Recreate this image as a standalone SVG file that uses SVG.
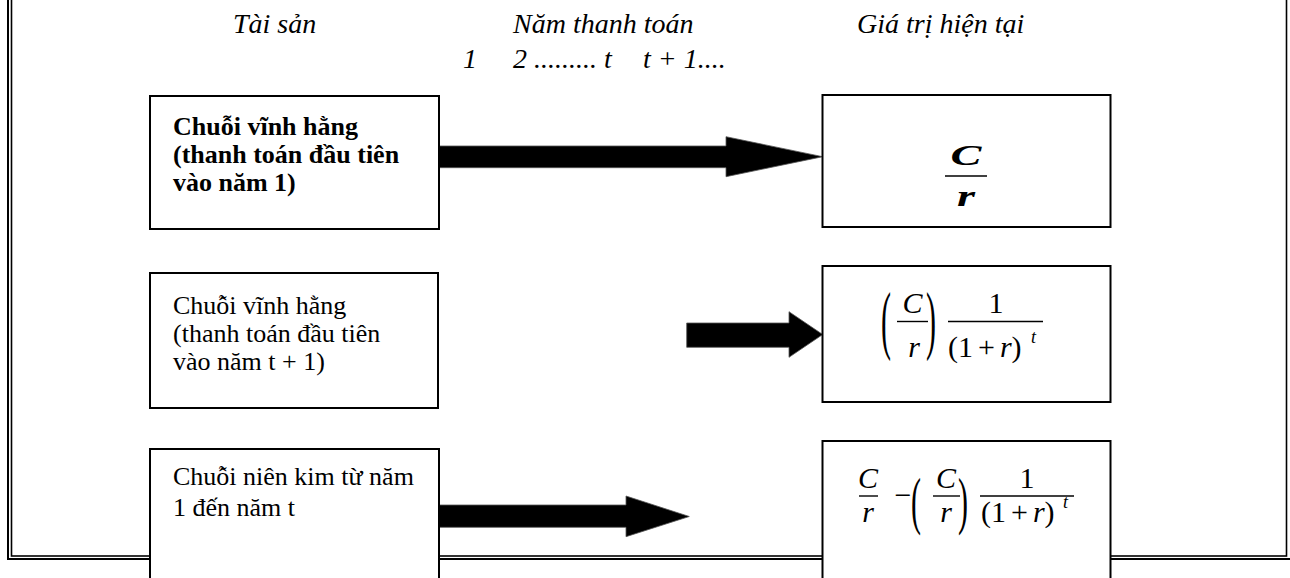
<svg xmlns="http://www.w3.org/2000/svg" width="1290" height="578" viewBox="0 0 1290 578">
<style>
.t{font-family:'Liberation Serif','Times New Roman',Times,serif;fill:#000}
.hdr{font-size:28px;font-style:italic}
.lbl{font-size:26px}
.b{font-weight:bold}
.box{fill:#fff;stroke:#000;stroke-width:2}
.arr{fill:#000;stroke:#555;stroke-width:0.8}
.fr{stroke:#000;stroke-width:1.4}
.m{font-size:30px}
.mi{font-size:30px;font-style:italic}
.sup{font-size:18px;font-style:italic}
</style>
<rect width="1290" height="578" fill="#fff"/>
<g id="frame" fill="none" stroke="#000">
<rect x="8" y="-20" width="1300" height="579" stroke-width="2"/>
<rect x="11.5" y="-20" width="1275" height="576" stroke-width="1.6"/>
</g>
<g id="headers" class="t hdr">
<text x="233" y="33">Tài sản</text>
<text x="513" y="33">Năm thanh toán</text>
<text x="463" y="68">1</text>
<text x="513" y="68">2 ......... t</text>
<text x="643" y="68">t + 1....</text>
<text x="857" y="33">Giá trị hiện tại</text>
</g>
<g id="connectors">
<polygon class="arr" points="438,146 726,146 726,136.7 822.7,156.7 726,176.7 726,167.7 438,167.7"/>
<polygon class="arr" points="686.7,323 789,323 789,311.7 822.7,334.5 789,357.3 789,347.3 686.7,347.3"/>
<polygon class="arr" points="439,505 626,505 626,496 689.3,516.5 626,536.7 626,527.3 439,527.3"/>
</g>
<g id="perp1">
<rect class="box" x="150" y="96" width="289" height="133"/>
<text class="t lbl b" x="173" y="135">Chuỗi vĩnh hằng</text>
<text class="t lbl b" x="173" y="163">(thanh toán đầu tiên</text>
<text class="t lbl b" x="173" y="191">vào năm 1)</text>
</g>
<g id="perp2">
<rect class="box" x="150" y="273" width="288" height="135"/>
<text class="t lbl" x="173" y="314">Chuỗi vĩnh hằng</text>
<text class="t lbl" x="173" y="342">(thanh toán đầu tiên</text>
<text class="t lbl" x="173" y="370">vào năm t + 1)</text>
</g>
<g id="annuity">
<rect class="box" x="150" y="449" width="289" height="140"/>
<text class="t lbl" x="173" y="485">Chuỗi niên kim từ năm</text>
<text class="t lbl" x="173" y="516">1 đến năm t</text>
</g>
<g id="pv1">
<rect class="box" x="822.5" y="95" width="288" height="132"/>
<text class="t" font-size="29" font-weight="bold" font-style="italic" text-anchor="middle" transform="translate(966,165) scale(1.6,1)">C</text>
<line class="fr" x1="945" y1="176" x2="987" y2="176"/>
<text class="t" font-size="29" font-weight="bold" font-style="italic" text-anchor="middle" transform="translate(966,206) scale(1.6,1)">r</text>
</g>
<g id="pv2">
<rect class="box" x="822.5" y="266" width="288" height="136"/>
<text class="t m" transform="translate(881,345) scale(1,2.55)">(</text>
<text class="t mi" x="912.5" y="313" text-anchor="middle">C</text>
<line class="fr" x1="897" y1="321.5" x2="928" y2="321.5"/>
<text class="t mi" x="914" y="357" text-anchor="middle">r</text>
<text class="t m" transform="translate(926,345) scale(1,2.55)">)</text>
<text class="t m" x="996" y="313" text-anchor="middle">1</text>
<line class="fr" x1="948" y1="321.5" x2="1043" y2="321.5"/>
<text class="t m" x="948" y="357">(1<tspan dx="5">+</tspan><tspan dx="5" font-style="italic">r</tspan>)</text>
<text class="t sup" x="1031" y="343">t</text>
</g>
<g id="pv3">
<rect class="box" x="822.5" y="441" width="288" height="150"/>
<text class="t mi" x="868" y="488" text-anchor="middle">C</text>
<line class="fr" x1="859" y1="496" x2="878" y2="496"/>
<text class="t mi" x="868" y="522" text-anchor="middle">r</text>
<text class="t m" x="903" y="505" text-anchor="middle">−</text>
<text class="t m" transform="translate(911,521.5) scale(1,2.09)">(</text>
<text class="t mi" x="946" y="488" text-anchor="middle">C</text>
<line class="fr" x1="933" y1="496" x2="960" y2="496"/>
<text class="t mi" x="946" y="522" text-anchor="middle">r</text>
<text class="t m" transform="translate(958,521.5) scale(1,2.09)">)</text>
<text class="t m" x="1027" y="488" text-anchor="middle">1</text>
<line class="fr" x1="980" y1="496" x2="1074" y2="496"/>
<text class="t m" x="981" y="522">(1<tspan dx="5">+</tspan><tspan dx="5" font-style="italic">r</tspan>)</text>
<text class="t sup" x="1063" y="508">t</text>
</g>
</svg>
